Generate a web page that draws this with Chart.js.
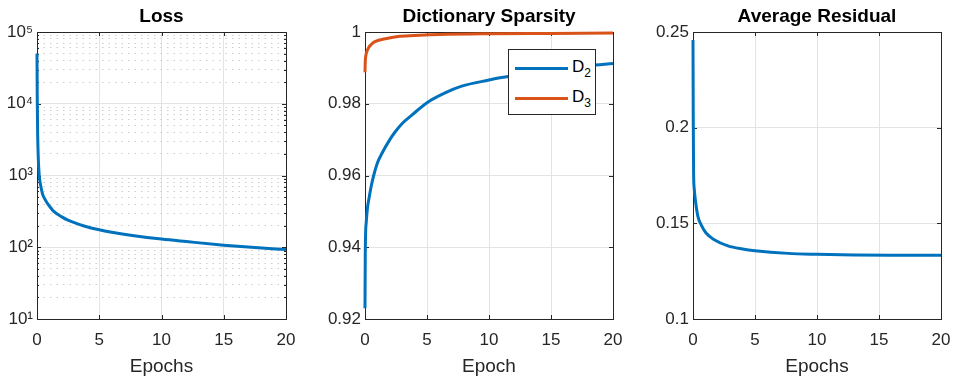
<!DOCTYPE html>
<html>
<head>
<meta charset="utf-8">
<script src="https://cdn.jsdelivr.net/npm/chart.js@4"></script>
<style>
  body { margin: 0; background: #fff; }
  #figura { position: relative; width: 953px; height: 376px; overflow: hidden; font-family: "Liberation Sans", Arial, sans-serif; }
  .panel { position: absolute; top: 0; }
  .leyenda { position: absolute; left: 508px; top: 49px; width: 86px; height: 64px; border: 1px solid #262626; background: #fff; }
  .fila { position: absolute; left: 6px; height: 20px; }
  .fila .trazo { position: absolute; left: 0; top: 9px; width: 53px; height: 3px; }
  .fila .texto { position: absolute; left: 57px; top: -1px; font-size: 17px; color: #000; white-space: nowrap; }
  .fila sub { font-size: 12px; vertical-align: -5px; }
</style>
</head>
<body>
<div id="figura">
  <canvas id="perdida" class="panel" style="left:0px" width="300" height="376"></canvas>
  <canvas id="dispersion" class="panel" style="left:320px" width="305" height="376"></canvas>
  <canvas id="residuo" class="panel" style="left:648px" width="303" height="376"></canvas>
  <div class="leyenda">
    <div class="fila" style="top:8px"><div class="trazo" style="background:#0072BD"></div><div class="texto">D<sub>2</sub></div></div>
    <div class="fila" style="top:38px"><div class="trazo" style="background:#D95319"></div><div class="texto">D<sub>3</sub></div></div>
  </div>
</div>
<script>
// ejes
const epochTicks = [0, 5, 10, 15, 20];
const lossTicks = [];
for (let e = 1; e <= 4; e++) {
  for (let m = 1; m <= 9; m++) lossTicks.push(m * Math.pow(10, e));
}
lossTicks.push(100000);
const sparsityTicks = [0.92, 0.94, 0.96, 0.98, 1];
const residualTicks = [0.1, 0.15, 0.2, 0.25];

// perdida
const lossEpochs = [0, 0.02, 0.05, 0.1, 0.18, 0.3, 0.43, 0.6, 0.83, 1.1, 1.37, 2, 2.44, 3, 3.78, 5, 6, 7.8, 10, 12, 15, 17.5, 20];
const lossValues = [50000, 12000, 4000, 1800, 1000, 720, 565, 480, 410, 355, 313, 265, 240, 220, 198, 175, 162, 145, 130, 120, 107, 99, 93];

// dispersion del diccionario
const d2Epochs = [0, 0.02, 0.05, 0.1, 0.2, 0.3, 0.5, 0.7, 1, 1.37, 2, 2.44, 3, 3.8, 5, 6.5, 7.8, 10, 11, 12, 14, 16, 18, 20];
const d2Values = [0.923, 0.937, 0.944, 0.947, 0.951, 0.9532, 0.957, 0.960, 0.9635, 0.9662, 0.970, 0.9722, 0.9745, 0.9769, 0.9803, 0.9831, 0.9849, 0.9866, 0.9873, 0.9879, 0.989, 0.9898, 0.9906, 0.9912];
const d3Epochs = [0, 0.02, 0.05, 0.1, 0.27, 0.5, 0.8, 1.75, 2.8, 4.4, 6, 10, 15, 20];
const d3Values = [0.9888, 0.9915, 0.993, 0.994, 0.9955, 0.9965, 0.9973, 0.9982, 0.9988, 0.9991, 0.9993, 0.9995, 0.9996, 0.9997];

// residuo promedio
const residualEpochs = [0, 0.02, 0.05, 0.1, 0.19, 0.4, 0.67, 1.07, 1.75, 2.82, 4, 5, 7.66, 10, 13, 16, 20];
const residualValues = [0.2458, 0.205, 0.176, 0.168, 0.1622, 0.1535, 0.1491, 0.1448, 0.1413, 0.1382, 0.1366, 0.1357, 0.1343, 0.1338, 0.1334, 0.1333, 0.1333];

const AZUL = "#0072BD";
const NARANJA = "#D95319";
const GRIS = "#262626";
const superindice = ["\u2070", "\u00B9", "\u00B2", "\u00B3", "\u2074", "\u2075"];

Chart.defaults.font.family = '"Liberation Sans", Arial, sans-serif';
Chart.defaults.color = GRIS;

function esDecada(v) {
  const e = Math.log10(v);
  return Math.abs(e - Math.round(e)) < 1e-9;
}

// marco del eje con marcas hacia adentro, como en matlab
const marco = {
  id: "marco",
  beforeDatasetsDraw(chart) {
    const { ctx, chartArea: a, scales } = chart;
    const x = scales.x, y = scales.y;
    const log = y.type === "logarithmic";
    ctx.save();
    ctx.strokeStyle = GRIS;
    ctx.lineWidth = 1;
    ctx.beginPath();
    x.ticks.forEach(t => {
      const px = Math.round(x.getPixelForValue(t.value)) + 0.5;
      ctx.moveTo(px, a.bottom); ctx.lineTo(px, a.bottom - 4);
      ctx.moveTo(px, a.top); ctx.lineTo(px, a.top + 4);
    });
    y.ticks.forEach(t => {
      const py = Math.round(y.getPixelForValue(t.value)) + 0.5;
      const largo = log && !esDecada(t.value) ? 2 : 4;
      ctx.moveTo(a.left, py); ctx.lineTo(a.left + largo, py);
      ctx.moveTo(a.right, py); ctx.lineTo(a.right - largo, py);
    });
    ctx.stroke();
    ctx.strokeRect(Math.round(a.left) + 0.5, Math.round(a.top) + 0.5, Math.round(a.right - a.left), Math.round(a.bottom - a.top));
    ctx.restore();
  }
};

function serie(xs, ys, color) {
  return {
    data: xs.map((v, i) => ({ x: v, y: ys[i] })),
    borderColor: color,
    borderWidth: 3,
    pointRadius: 0,
    cubicInterpolationMode: "monotone",
    clip: false
  };
}

function ejeX(titulo) {
  return {
    type: "linear",
    min: 0,
    max: 20,
    afterBuildTicks: ax => { ax.ticks = epochTicks.map(v => ({ value: v })); },
    afterFit: ax => { ax.height = 57; ax.paddingLeft = 0; ax.paddingRight = 0; },
    ticks: { font: { size: 17 }, padding: 11, maxRotation: 0 },
    grid: { color: "#e3e3e3", drawTicks: false },
    border: { display: false },
    title: { display: true, text: titulo, font: { size: 19, lineHeight: 1 }, padding: 0 }
  };
}

function opciones(titulo, ejeY, derecha, anchoY) {
  ejeY.afterFit = ax => { ax.width = anchoY; ax.paddingTop = 0; ax.paddingBottom = 0; };
  return {
    responsive: false,
    animation: false,
    layout: { padding: { left: 0, right: derecha, top: 0, bottom: 0 } },
    plugins: {
      legend: { display: false },
      tooltip: { enabled: false },
      title: {
        display: true,
        text: titulo,
        fullSize: false,
        color: "#000",
        font: { size: 19, weight: "bold" },
        padding: { top: 5, bottom: 4.2 }
      }
    },
    scales: { x: ejeX(titulo === "Dictionary Sparsity" ? "Epoch" : "Epochs"), y: ejeY }
  };
}

new Chart(document.getElementById("perdida"), {
  type: "line",
  data: { datasets: [serie(lossEpochs, lossValues, AZUL)] },
  options: opciones("Loss", {
    type: "logarithmic",
    min: 10,
    max: 100000,
    afterBuildTicks: ax => { ax.ticks = lossTicks.map(v => ({ value: v })); },
    ticks: {
      font: { size: 17 },
      padding: 4,
      autoSkip: false,
      callback: v => esDecada(v) ? "10" + superindice[Math.round(Math.log10(v))] : ""
    },
    grid: {
      drawTicks: false,
      color: c => esDecada(c.tick.value) ? "#e3e3e3" : "#cccccc"
    },
    border: { display: false, dash: c => esDecada(c.tick.value) ? [] : [1.5, 5] }
  }, 14, 37),
  plugins: [marco]
});

new Chart(document.getElementById("dispersion"), {
  type: "line",
  data: { datasets: [serie(d2Epochs, d2Values, AZUL), serie(d3Epochs, d3Values, NARANJA)] },
  options: opciones("Dictionary Sparsity", {
    type: "linear",
    min: 0.92,
    max: 1,
    afterBuildTicks: ax => { ax.ticks = sparsityTicks.map(v => ({ value: v })); },
    ticks: { font: { size: 17 }, padding: 4, callback: v => String(+v.toFixed(2)) },
    grid: { drawTicks: false, color: "#e3e3e3" },
    border: { display: false }
  }, 12, 45),
  plugins: [marco]
});

new Chart(document.getElementById("residuo"), {
  type: "line",
  data: { datasets: [serie(residualEpochs, residualValues, AZUL)] },
  options: opciones("Average Residual", {
    type: "linear",
    min: 0.1,
    max: 0.25,
    afterBuildTicks: ax => { ax.ticks = residualTicks.map(v => ({ value: v })); },
    ticks: { font: { size: 17 }, padding: 4, callback: v => String(+v.toFixed(2)) },
    grid: { drawTicks: false, color: "#e3e3e3" },
    border: { display: false }
  }, 10, 45),
  plugins: [marco]
});
</script>
</body>
</html>
